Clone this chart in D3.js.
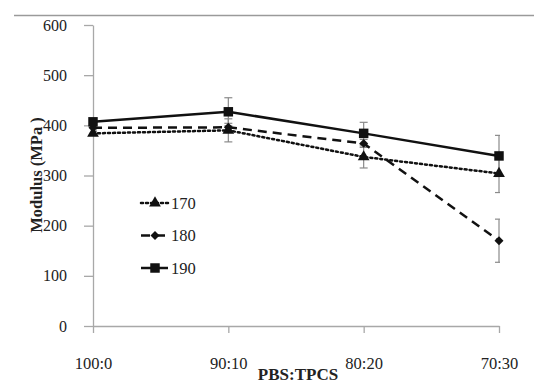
<!DOCTYPE html>
<html>
<head>
<meta charset="utf-8">
<script src="https://cdn.jsdelivr.net/npm/d3@7"></script>
<style>
  body { margin: 0; background: #fff; }
  svg text { font-family: 'Liberation Serif', Tinos, 'Times New Roman', 'DejaVu Serif', serif !important; fill: #222; }
</style>
</head>
<body>
<div class="chart"></div>
<script>
const categories = ['100:0', '90:10', '80:20', '70:30'];
const yTicks = [0, 100, 200, 300, 400, 500, 600];

const names = ['170', '180', '190'];
const values170 = [384, 390, 337, 304];
const values180 = [395, 396, 364, 170];
const values190 = [407, 427, 384, 339];
const errors170 = [4, 23, 22, 38];
const errors180 = [4, 8, 8, 43];
const errors190 = [4, 28, 22, 41];

const w = 534, h = 385;
const serif = "'Liberation Serif', Tinos, 'Times New Roman', 'DejaVu Serif', serif";

const svg = d3.select('.chart').append('svg')
  .attr('width', w)
  .attr('height', h)
  .attr('font-family', serif);

// thin rule across the top of the figure
svg.append('line')
  .attr('x1', 14).attr('x2', w)
  .attr('y1', 15.5).attr('y2', 15.5)
  .attr('stroke', '#9a9a9a')
  .attr('stroke-width', 1.5);

let x = d3.scalePoint().domain(categories).range([93, 499]);
let y = d3.scaleLinear().domain([0, 600]).range([326, 25]);

// y axis
let yAxis = svg.append('g')
  .attr('transform', 'translate(93,0)')
  .call(d3.axisLeft(y).tickValues(yTicks).tickSize(9).tickSizeOuter(0).tickPadding(17))
  .attr('font-family', serif)
  .attr('font-size', 16);
yAxis.select('.domain').attr('stroke', '#a8a8a8').attr('stroke-width', 1.3);
yAxis.selectAll('.tick line').attr('stroke', '#a8a8a8').attr('stroke-width', 1.3);
yAxis.selectAll('.tick text').attr('fill', '#222');

// x axis
let xAxis = svg.append('g')
  .attr('transform', 'translate(0,326)')
  .call(d3.axisBottom(x).tickSize(7).tickSizeOuter(0).tickPadding(24))
  .attr('font-family', serif)
  .attr('font-size', 16.5);
xAxis.select('.domain').attr('stroke', '#a8a8a8').attr('stroke-width', 1.3);
xAxis.selectAll('.tick line').attr('stroke', '#a8a8a8').attr('stroke-width', 1.3);
xAxis.selectAll('.tick text').attr('fill', '#222');

// axis titles
svg.append('text')
  .attr('x', 298)
  .attr('y', 380)
  .attr('text-anchor', 'middle')
  .attr('font-size', 17)
  .attr('font-weight', 'bold')
  .text('PBS:TPCS');

svg.append('text')
  .attr('transform', 'translate(42,175) rotate(-90)')
  .attr('text-anchor', 'middle')
  .attr('font-size', 16.5)
  .attr('font-weight', 'bold')
  .text('Modulus (MPa )');

// clip to the plot area so end caps are cut like the original
svg.append('clipPath').attr('id', 'plot')
  .append('rect')
  .attr('x', 93).attr('y', 0)
  .attr('width', 499 - 93 + 1).attr('height', 340);

let series = [
  { name: names[0], values: values170, errors: errors170, dash: '2,3', cap: 'round', marker: d3.symbolTriangle, size: 60, rot: 0 },
  { name: names[1], values: values180, errors: errors180, dash: '9,6', cap: 'butt', marker: d3.symbolSquare, size: 40, rot: 45 },
  { name: names[2], values: values190, errors: errors190, dash: null, cap: 'butt', marker: d3.symbolSquare, size: 90, rot: 0 }
];

let plot = svg.append('g').attr('clip-path', 'url(#plot)');

// error bars
series.forEach(s => {
  let g = plot.append('g');
  s.values.forEach((v, i) => {
    let cx = x(categories[i]);
    let top = y(v + s.errors[i]);
    let bot = y(v - s.errors[i]);
    g.append('line')
      .attr('x1', cx).attr('x2', cx)
      .attr('y1', top).attr('y2', bot)
      .attr('stroke', '#8a8a8a').attr('stroke-width', 1.2);
    [top, bot].forEach(yy => {
      g.append('line')
        .attr('x1', cx - 4).attr('x2', cx + 4)
        .attr('y1', yy).attr('y2', yy)
        .attr('stroke', '#8a8a8a').attr('stroke-width', 1.2);
    });
  });
});

let line = d3.line()
  .x((d, i) => x(categories[i]))
  .y(d => y(d));

// lines
series.forEach(s => {
  svg.append('path')
    .attr('d', line(s.values))
    .attr('fill', 'none')
    .attr('stroke', '#111')
    .attr('stroke-width', 2.5)
    .attr('stroke-linecap', s.cap)
    .attr('stroke-dasharray', s.dash);
});

// markers
series.forEach(s => {
  svg.selectAll(null)
    .data(s.values)
    .enter().append('path')
    .attr('d', d3.symbol().type(s.marker).size(s.size))
    .attr('transform', (d, i) => `translate(${x(categories[i])},${y(d)}) rotate(${s.rot})`)
    .attr('fill', '#111');
});

// legend
let legend = svg.append('g');
series.forEach((s, i) => {
  let ly = 203 + i * 32.5;
  legend.append('line')
    .attr('x1', 141).attr('x2', 168)
    .attr('y1', ly).attr('y2', ly)
    .attr('stroke', '#111')
    .attr('stroke-width', 2.5)
    .attr('stroke-linecap', s.cap)
    .attr('stroke-dasharray', s.dash);
  legend.append('path')
    .attr('d', d3.symbol().type(s.marker).size(s.size))
    .attr('transform', `translate(155,${ly}) rotate(${s.rot})`)
    .attr('fill', '#111');
  legend.append('text')
    .attr('x', 171)
    .attr('y', ly + 5.5)
    .attr('font-size', 16.5)
    .text(s.name);
});
</script>
</body>
</html>
